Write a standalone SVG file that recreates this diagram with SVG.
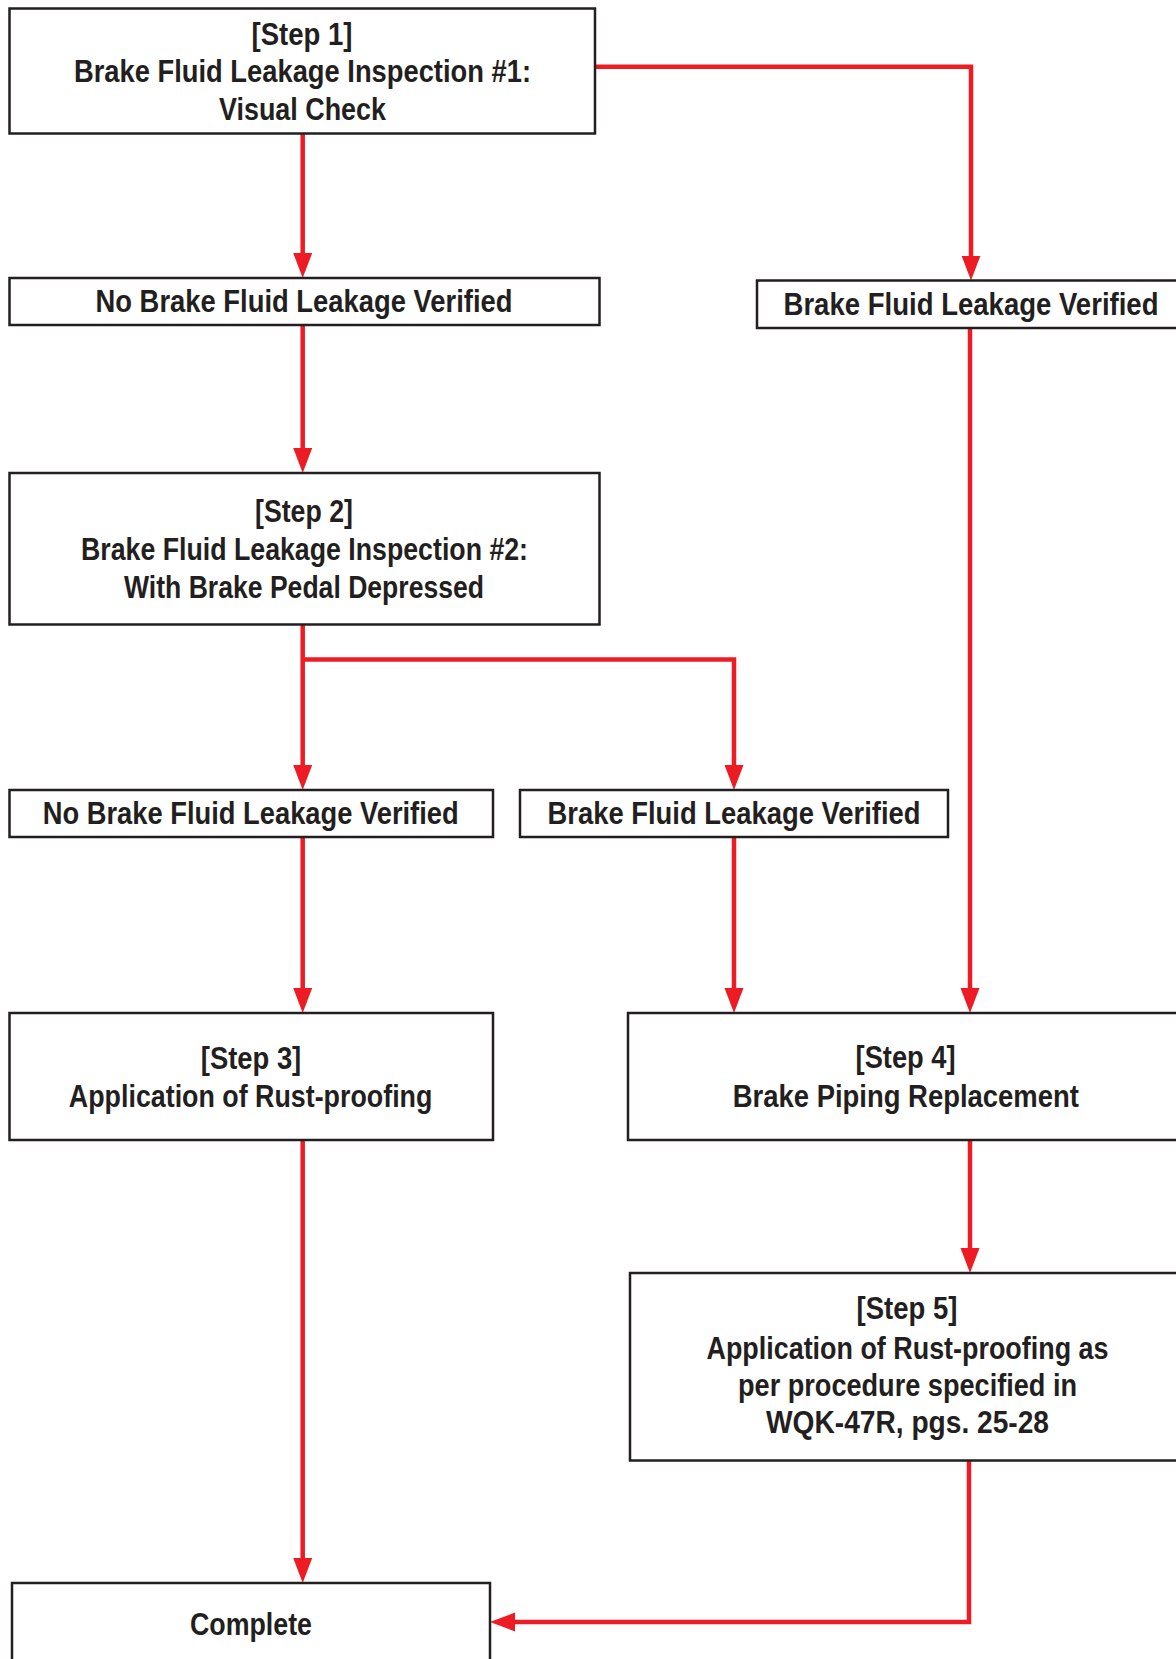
<svg xmlns="http://www.w3.org/2000/svg" width="1176" height="1659" viewBox="0 0 1176 1659">
<defs>
<style>
.box{fill:#fff;stroke:#231F20;stroke-width:2.5}
.t{font-family:"Liberation Sans Narrow","Liberation Sans",Arial,sans-serif;font-weight:bold;font-size:32px;fill:#231F20;text-anchor:middle}
.c{fill:none;stroke:#ED1C24;stroke-width:4.5;marker-end:url(#ah)}
</style>
<marker id="ah" markerUnits="userSpaceOnUse" markerWidth="26" markerHeight="20" refX="3" refY="9.5" orient="auto" viewBox="0 0 26 20">
<path d="M0,0 L25,9.5 L0,19 z" fill="#ED1C24"/>
</marker>
</defs>
<rect width="1176" height="1659" fill="#fff"/>

<g id="connectors">
<path class="c" d="M302.7,134 V256"/>
<path class="c" d="M595,66.7 H971 V258.5"/>
<path class="c" d="M302.7,325 V451"/>
<path class="c" d="M302.7,624.5 V768"/>
<path class="c" d="M302.7,659.5 H734 V768"/>
<path class="c" d="M302.7,837 V991"/>
<path class="c" d="M734,837 V991"/>
<path class="c" d="M970,328 V991"/>
<path class="c" d="M302.7,1140 V1561"/>
<path class="c" d="M970,1140 V1251"/>
<path class="c" d="M969,1461 V1622 H512"/>
</g>

<g id="step1">
<rect class="box" x="9.5" y="8.5" width="585.5" height="125"/>
<text class="t" x="302" y="44.5" textLength="101" lengthAdjust="spacingAndGlyphs">[Step 1]</text>
<text class="t" x="302.5" y="82" textLength="457" lengthAdjust="spacingAndGlyphs">Brake Fluid Leakage Inspection #1:</text>
<text class="t" x="302.5" y="120" textLength="167" lengthAdjust="spacingAndGlyphs">Visual Check</text>
</g>

<g id="noleak1">
<rect class="box" x="9.5" y="278" width="590" height="47"/>
<text class="t" x="304" y="312" textLength="417" lengthAdjust="spacingAndGlyphs">No Brake Fluid Leakage Verified</text>
</g>

<g id="leak1">
<rect class="box" x="757" y="280.5" width="426" height="47.5"/>
<text class="t" x="971" y="315" textLength="375" lengthAdjust="spacingAndGlyphs">Brake Fluid Leakage Verified</text>
</g>

<g id="step2">
<rect class="box" x="9.5" y="473" width="590" height="151.5"/>
<text class="t" x="304" y="522" textLength="98" lengthAdjust="spacingAndGlyphs">[Step 2]</text>
<text class="t" x="304.5" y="559.5" textLength="447" lengthAdjust="spacingAndGlyphs">Brake Fluid Leakage Inspection #2:</text>
<text class="t" x="304" y="598" textLength="360" lengthAdjust="spacingAndGlyphs">With Brake Pedal Depressed</text>
</g>

<g id="noleak2">
<rect class="box" x="9.5" y="790" width="483.5" height="47"/>
<text class="t" x="250.7" y="824" textLength="416" lengthAdjust="spacingAndGlyphs">No Brake Fluid Leakage Verified</text>
</g>

<g id="leak2">
<rect class="box" x="520" y="790" width="428" height="47"/>
<text class="t" x="734" y="824.3" textLength="373" lengthAdjust="spacingAndGlyphs">Brake Fluid Leakage Verified</text>
</g>

<g id="step3">
<rect class="box" x="9.5" y="1013" width="483.5" height="127"/>
<text class="t" x="251" y="1069" textLength="100.5" lengthAdjust="spacingAndGlyphs">[Step 3]</text>
<text class="t" x="250.6" y="1107" textLength="363.5" lengthAdjust="spacingAndGlyphs">Application of Rust-proofing</text>
</g>

<g id="step4">
<rect class="box" x="628" y="1013" width="556" height="127"/>
<text class="t" x="905.6" y="1068" textLength="100" lengthAdjust="spacingAndGlyphs">[Step 4]</text>
<text class="t" x="905.8" y="1106.5" textLength="346" lengthAdjust="spacingAndGlyphs">Brake Piping Replacement</text>
</g>

<g id="step5">
<rect class="box" x="630" y="1273" width="552" height="187.5"/>
<text class="t" x="907" y="1319" textLength="100.8" lengthAdjust="spacingAndGlyphs">[Step 5]</text>
<text class="t" x="907.5" y="1358.5" textLength="402" lengthAdjust="spacingAndGlyphs">Application of Rust-proofing as</text>
<text class="t" x="907.5" y="1395.8" textLength="339" lengthAdjust="spacingAndGlyphs">per procedure specified in</text>
<text class="t" x="907.5" y="1433" textLength="283" lengthAdjust="spacingAndGlyphs">WQK-47R, pgs. 25-28</text>
</g>

<g id="complete">
<rect class="box" x="12" y="1583" width="478" height="86"/>
<text class="t" x="251" y="1635" textLength="122" lengthAdjust="spacingAndGlyphs">Complete</text>
</g>
</svg>
